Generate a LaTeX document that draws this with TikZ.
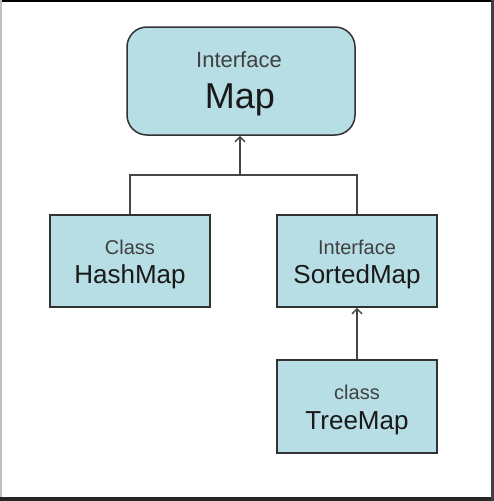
\documentclass[tikz,border=0pt]{standalone}
\usepackage{fontspec}
\setmainfont{Liberation Sans}
\usetikzlibrary{arrows.meta}
\definecolor{boxfill}{RGB}{183,221,229}
\definecolor{boxline}{RGB}{50,50,50}
\definecolor{conline}{RGB}{70,70,70}
\tikzset{
  umlbox/.style={draw=boxline, line width=1.5pt, fill=boxfill, inner sep=0pt},
  conn/.style={draw=conline, line width=2pt},
  arr/.style={conn, -{Straight Barb[length=5pt,width=10pt,line width=1.5pt]}},
  small/.style={anchor=base, inner sep=0pt, text=black!75, font=\fontsize{20}{24}\selectfont},
  big/.style={anchor=base, inner sep=0pt, text=black!90, font=\fontsize{26}{30}\selectfont}
}
\begin{document}
\begin{tikzpicture}[x=1pt,y=-1pt]
\useasboundingbox (0,0) rectangle (494,501);
\fill[white] (0,0) rectangle (494,501);
\fill[black] (0,0) rectangle (494,1.5);
\fill[black!85] (0,497) rectangle (494,501);
\fill[black!75] (491,0) rectangle (494,501);
\fill[black!25] (0,0) rectangle (1.5,497);
% boxes
\node[umlbox, rounded corners=20pt, minimum width=228pt, minimum height=108pt] (map) at (241,81) {};
\node[umlbox, minimum width=160pt, minimum height=92pt] (hash) at (130,261) {};
\node[umlbox, minimum width=160pt, minimum height=92pt] (sorted) at (357,261) {};
\node[umlbox, minimum width=160pt, minimum height=93pt] (tree) at (357,406.5) {};
% texts
\node[small, font=\fontsize{22}{26}\selectfont] (t1) at (239,67) {Interface};
\node[anchor=base, inner sep=0pt, text=black!90, font=\fontsize{36}{40}\selectfont] (t2) at (240,108) {Map};
\node[small] (t3) at (130,254) {Class};
\node[big] (t4) at (130,283) {HashMap};
\node[small] (t5) at (357,254) {Interface};
\node[big] (t6) at (357,283) {SortedMap};
\node[small] (t7) at (357,399) {class};
\node[big] (t8) at (357,429) {TreeMap};
% connectors
\coordinate (j) at (240,175);
\draw[conn] (hash.north) |- (j) -| (sorted.north);
\draw[arr] (j) -- (j |- map.south);
\draw[arr] (tree.north) -- (sorted.south);
\end{tikzpicture}
\end{document}
